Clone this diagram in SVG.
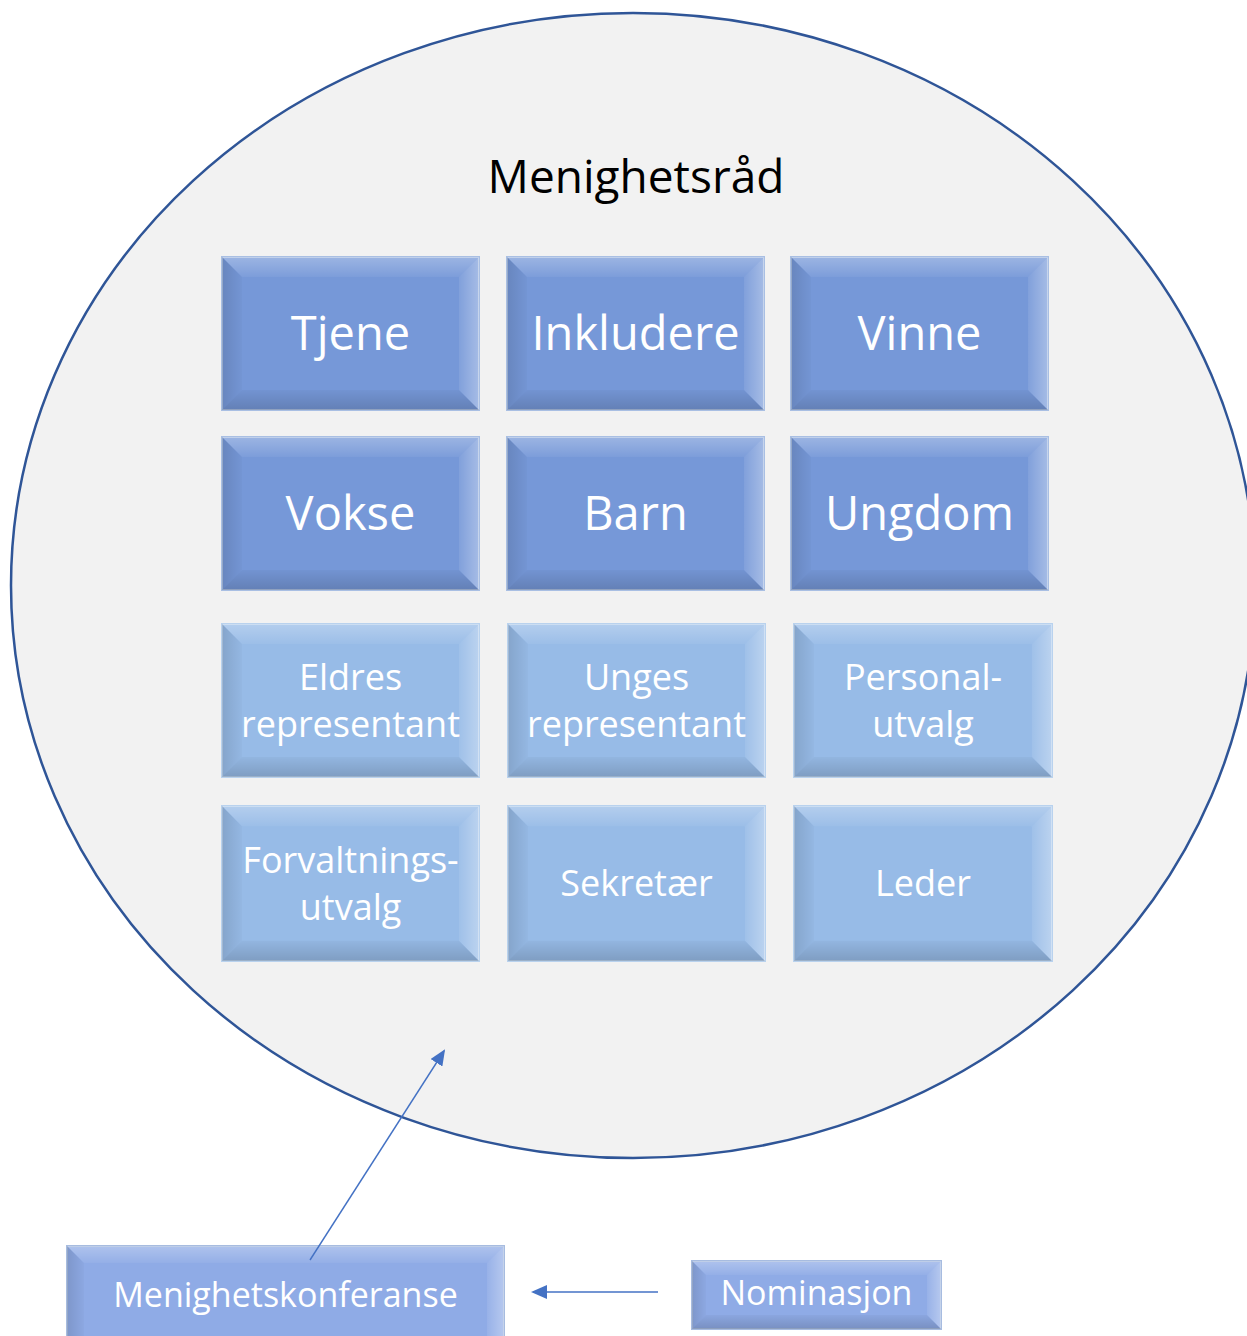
<svg xmlns="http://www.w3.org/2000/svg" xmlns:xlink="http://www.w3.org/1999/xlink" width="1247" height="1336" viewBox="0 0 1247 1336">
<style>
.dk{fill:#7698D8;stroke:#A9BFE3;stroke-width:2}
.lt{fill:#97BBE7;stroke:#B9D2EE;stroke-width:2}
.bt{fill:#8FABE6;stroke:#A7BCE0;stroke-width:2}
.t{font-family:"Open Sans","Noto Sans",sans-serif;fill:#FFFFFF;text-anchor:middle}
.big{font-size:47px}
.mid{font-size:36px}
.sm{font-size:34px}
.conn{stroke:#4472C4;stroke-width:1.4;fill:none}
</style>
<defs>
<linearGradient id="gTop" x1="0" y1="0" x2="0" y2="1"><stop offset="0" stop-color="#fff" stop-opacity="0.28"/><stop offset="1" stop-color="#fff" stop-opacity="0.05"/></linearGradient>
<linearGradient id="gRight" x1="1" y1="0" x2="0" y2="0"><stop offset="0" stop-color="#fff" stop-opacity="0.35"/><stop offset="1" stop-color="#fff" stop-opacity="0.08"/></linearGradient>
<linearGradient id="gBot" x1="0" y1="1" x2="0" y2="0"><stop offset="0" stop-color="#000" stop-opacity="0.16"/><stop offset="1" stop-color="#000" stop-opacity="0.03"/></linearGradient>
<linearGradient id="gLeft" x1="0" y1="0" x2="1" y2="0"><stop offset="0" stop-color="#000" stop-opacity="0.12"/><stop offset="1" stop-color="#000" stop-opacity="0.02"/></linearGradient>
<symbol id="bev" viewBox="0 0 257 153" preserveAspectRatio="none">
<polygon points="0,0 257,0 237,20 20,20" fill="url(#gTop)"/>
<polygon points="257,0 257,153 237,133 237,20" fill="url(#gRight)"/>
<polygon points="0,153 257,153 237,133 20,133" fill="url(#gBot)"/>
<polygon points="0,0 20,20 20,133 0,153" fill="url(#gLeft)"/>
</symbol>
<marker id="arr" markerWidth="10" markerHeight="10" refX="8" refY="5" orient="auto" markerUnits="userSpaceOnUse" viewBox="0 0 10 10">
<path d="M0,0 L10,5 L0,10 z" fill="#4472C4"/>
</marker>
<marker id="arr2" markerWidth="16" markerHeight="14" refX="14" refY="7" orient="auto" markerUnits="userSpaceOnUse" viewBox="0 0 16 14">
<path d="M0,0 L16,7 L0,14 z" fill="#4472C4"/>
</marker>
</defs>
<rect width="1247" height="1336" fill="#FFFFFF"/>
<g id="menighetsrad">
<ellipse cx="633" cy="585.5" rx="622" ry="572.5" fill="#F2F2F2" stroke="#2F5597" stroke-width="2.5"/>
<text x="636" y="193" font-family="Open Sans, Noto Sans, sans-serif" font-size="46" fill="#000000" text-anchor="middle">Menighetsråd</text>
</g>
<g id="tjene"><rect class="dk" x="222" y="257" width="257" height="153"/><use href="#bev" x="222" y="257" width="257" height="153"/><text class="t big" x="350.5" y="350">Tjene</text></g>
<g id="inkludere"><rect class="dk" x="507" y="257" width="257" height="153"/><use href="#bev" x="507" y="257" width="257" height="153"/><text class="t big" x="635.5" y="350">Inkludere</text></g>
<g id="vinne"><rect class="dk" x="791" y="257" width="257" height="153"/><use href="#bev" x="791" y="257" width="257" height="153"/><text class="t big" x="919.5" y="350">Vinne</text></g>
<g id="vokse"><rect class="dk" x="222" y="437" width="257" height="153"/><use href="#bev" x="222" y="437" width="257" height="153"/><text class="t big" x="350.5" y="530">Vokse</text></g>
<g id="barn"><rect class="dk" x="507" y="437" width="257" height="153"/><use href="#bev" x="507" y="437" width="257" height="153"/><text class="t big" x="635.5" y="530">Barn</text></g>
<g id="ungdom"><rect class="dk" x="791" y="437" width="257" height="153"/><use href="#bev" x="791" y="437" width="257" height="153"/><text class="t big" x="919.5" y="530">Ungdom</text></g>
<g id="eldres"><rect class="lt" x="222" y="624" width="257" height="153"/><use href="#bev" x="222" y="624" width="257" height="153"/><text class="t mid" x="350.5" y="690">Eldres</text><text class="t mid" x="350.5" y="737">representant</text></g>
<g id="unges"><rect class="lt" x="508" y="624" width="257" height="153"/><use href="#bev" x="508" y="624" width="257" height="153"/><text class="t mid" x="636.5" y="690">Unges</text><text class="t mid" x="636.5" y="737">representant</text></g>
<g id="personal"><rect class="lt" x="794" y="624" width="258" height="153"/><use href="#bev" x="794" y="624" width="258" height="153"/><text class="t mid" x="923" y="690">Personal-</text><text class="t mid" x="923" y="737">utvalg</text></g>
<g id="forvaltning"><rect class="lt" x="222" y="806" width="257" height="155"/><use href="#bev" x="222" y="806" width="257" height="155"/><text class="t mid" x="350.5" y="873">Forvaltnings-</text><text class="t mid" x="350.5" y="920">utvalg</text></g>
<g id="sekretaer"><rect class="lt" x="508" y="806" width="257" height="155"/><use href="#bev" x="508" y="806" width="257" height="155"/><text class="t mid" x="636.5" y="896">Sekretær</text></g>
<g id="leder"><rect class="lt" x="794" y="806" width="258" height="155"/><use href="#bev" x="794" y="806" width="258" height="155"/><text class="t mid" x="923" y="896">Leder</text></g>
<g id="menighetskonferanse"><rect class="bt" x="67" y="1246" width="437" height="110"/>
<polygon points="67,1246 504,1246 487,1263 84,1263" fill="url(#gTop)"/>
<polygon points="504,1246 504,1356 487,1339 487,1263" fill="url(#gRight)"/>
<polygon points="67,1246 84,1263 84,1339 67,1356" fill="url(#gLeft)"/>
<text class="t sm" x="285.5" y="1307">Menighetskonferanse</text></g>
<g id="nominasjon"><rect class="bt" x="692" y="1261" width="249" height="68"/>
<polygon points="692,1261 941,1261 927,1275 706,1275" fill="url(#gTop)"/>
<polygon points="941,1261 941,1329 927,1315 927,1275" fill="url(#gRight)"/>
<polygon points="692,1329 941,1329 927,1315 706,1315" fill="url(#gBot)"/>
<polygon points="692,1261 706,1275 706,1315 692,1329" fill="url(#gLeft)"/>
<text class="t sm" x="816.5" y="1305">Nominasjon</text></g>
<g id="connectors">
<line class="conn" x1="310" y1="1260" x2="444" y2="1051" marker-end="url(#arr2)"/>
<line class="conn" x1="658" y1="1292" x2="533" y2="1292" marker-end="url(#arr2)"/>
</g>
</svg>
